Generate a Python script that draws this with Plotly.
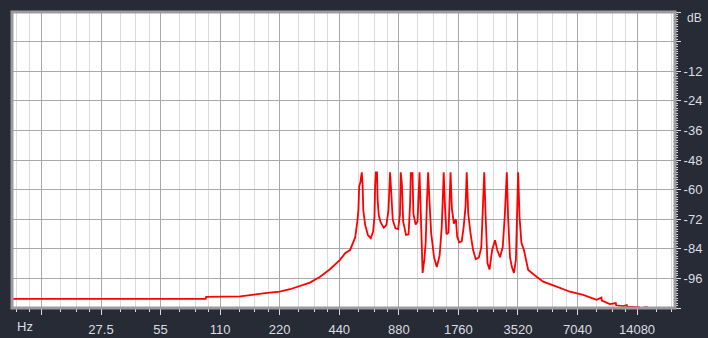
import plotly.graph_objects as go

# ---- data ----
freq_hz = [
    9.8, 93.0, 93.5, 139, 186, 220, 248, 279, 313, 352, 395, 444, 471, 499, 530,
    543, 550, 555, 563, 572, 578, 582, 595, 614, 635, 653, 663, 668, 674, 683, 688,
    697, 711, 739, 762, 780, 786, 795, 806, 820, 846, 873, 892, 900, 912, 926, 957,
    986, 1004, 1012, 1032, 1043, 1071, 1094, 1111, 1120, 1137, 1161, 1184, 1203, 1222,
    1238, 1259, 1283, 1326, 1369, 1415, 1450, 1474, 1484, 1508, 1533, 1569, 1593, 1607,
    1632, 1671, 1710, 1736, 1776, 1830, 1871, 1913, 1940, 1975, 2030, 2090, 2155, 2235,
    2299, 2352, 2379, 2418, 2469, 2529, 2608, 2696, 2767, 2858, 2950, 3020, 3067, 3093,
    3139, 3210, 3282, 3361, 3438, 3490, 3530, 3586, 3666, 3775, 3968, 4376, 4725, 5524,
    6448, 7523, 8792, 9300, 9350, 10264, 11000, 11050, 11985, 12500, 12550, 13999,
    14548, 14600, 15200, 15967]
level_db = [
    -104.3, -104.3, -103.5, -103.3, -102.0, -101.4, -100.4, -99.1, -97.7, -95.3, -92.3,
    -88.5, -85.8, -84.5, -79.3,
    -73.0, -68.3, -58.8, -56.8, -53.0, -58.8, -68.3, -74.3, -78.4, -79.7, -77.0, -71.0,
    -58.8, -53.0, -53.0, -64.2,
    -70.3, -73.1, -75.5, -74.3, -68.5, -57.3, -53.0, -61.3, -72.2, -75.7, -76.0, -70.2,
    -53.0, -57.7, -72.9, -78.4,
    -78.1, -65.6, -53.3, -53.3, -69.8, -74.2, -72.9, -60.1, -53.0, -69.8, -93.8, -88.5,
    -81.6, -64.0,
    -53.0, -65.6, -77.7, -87.4, -91.4, -86.8, -75.4, -60.1, -53.0, -67.6, -78.1, -77.4,
    -64.3, -53.0,
    -67.6, -73.8, -72.0, -79.0, -81.4, -81.0, -75.4, -67.0, -53.0, -69.8, -78.1, -84.5,
    -88.2, -87.5,
    -83.3, -65.6, -53.0, -70.8, -89.8, -92.4, -84.5, -80.5, -84.5, -87.4, -83.3, -70.8,
    -56.0, -53.0,
    -70.8, -87.4, -91.4, -93.8, -88.5, -70.8, -53.0, -70.8, -81.6, -84.5, -92.6, -95.3,
    -97.3, -99.3,
    -101.4, -102.7, -104.7, -103.8, -105.0, -106.4, -106.0, -106.9, -107.2, -106.8,
    -107.5, -107.7,
    -107.7, None, -107.7, -107.7]

x_major = [13.75, 27.5, 55, 110, 220, 440, 880, 1760, 3520, 7040, 14080]
x_labels = ["", "27.5", "55", "110", "220", "440", "880", "1760", "3520", "7040", "14080"]
x_minor_steps = [1.25, 1.5, 1.75]
y_major = [12, 0, -12, -24, -36, -48, -60, -72, -84, -96, -108]
y_labels = ["", "", "-12", "-24", "-36", "-48", "-60", "-72", "-84", "-96", ""]

# ---- figure ----
W, H = 708, 338
ML, MR, MT, MB = 12, 33, 12, 30
x_range = [0.9895, 4.3405]  # log10 of ~9.76 Hz .. ~21900 Hz

bg = "#262b36"
lab = "#dcdde0"
font = "Liberation Sans"

x_minor = [m * s for m in [6.875] + x_major for s in x_minor_steps]

fig = go.Figure()
fig.add_trace(go.Scatter(x=freq_hz, y=level_db, mode="lines", connectgaps=False,
                         line=dict(color="#ff0000", width=1.8), hoverinfo="skip"))

fig.update_layout(
    width=W, height=H,
    margin=dict(l=ML, r=MR, t=MT, b=MB, pad=0),
    paper_bgcolor=bg, plot_bgcolor="#ffffff",
    showlegend=False,
    xaxis=dict(type="log", range=x_range, tickmode="array", automargin=False,
               tickvals=x_major, ticktext=x_labels,
               showgrid=True, gridcolor="#a9a9a9", gridwidth=1,
               ticks="outside", ticklen=6, tickwidth=1, tickcolor=lab,
               ticklabelstandoff=3,
               tickfont=dict(family=font, size=13, color=lab),
               minor=dict(tickmode="array", tickvals=x_minor, showgrid=True,
                          gridcolor="#dcdcdc", gridwidth=1,
                          ticks="outside", ticklen=3, tickcolor=lab, tickwidth=1),
               zeroline=False, showline=False, fixedrange=True),
    yaxis=dict(range=[-108, 12], side="right", tickmode="array", automargin=False,
               tickvals=y_major, ticktext=y_labels,
               showgrid=True, gridcolor="#a9a9a9", gridwidth=1,
               ticks="outside", ticklen=5, tickwidth=1, tickcolor=lab,
               ticklabelstandoff=0,
               tickfont=dict(family=font, size=13, color=lab),
               minor=dict(dtick=1, ticks="outside", ticklen=2, tickcolor=lab,
                          tickwidth=1, showgrid=False),
               zeroline=False, showline=False, fixedrange=True),
    shapes=[dict(type="rect", xref="paper", yref="paper", x0=0, x1=1, y0=0, y1=1,
                 line=dict(color="#9c9c9c", width=3), layer="above")],
    annotations=[
        dict(text="Hz", xref="paper", yref="paper", x=3 / 663, y=-18 / 296,
             xanchor="left", yanchor="middle", showarrow=False,
             font=dict(family=font, size=13, color=lab)),
        dict(text="dB", xref="paper", yref="paper", x=1 + 10 / 663, y=1 - 6 / 296,
             xanchor="left", yanchor="middle", showarrow=False,
             font=dict(family=font, size=12, color=lab)),
    ],
)

fig.write_html("out.html", config={"displayModeBar": False, "staticPlot": True},
               post_script="document.body.style.margin='0';"
                           "document.body.style.overflow='hidden';"
                           "document.body.style.background='%s';" % bg)
